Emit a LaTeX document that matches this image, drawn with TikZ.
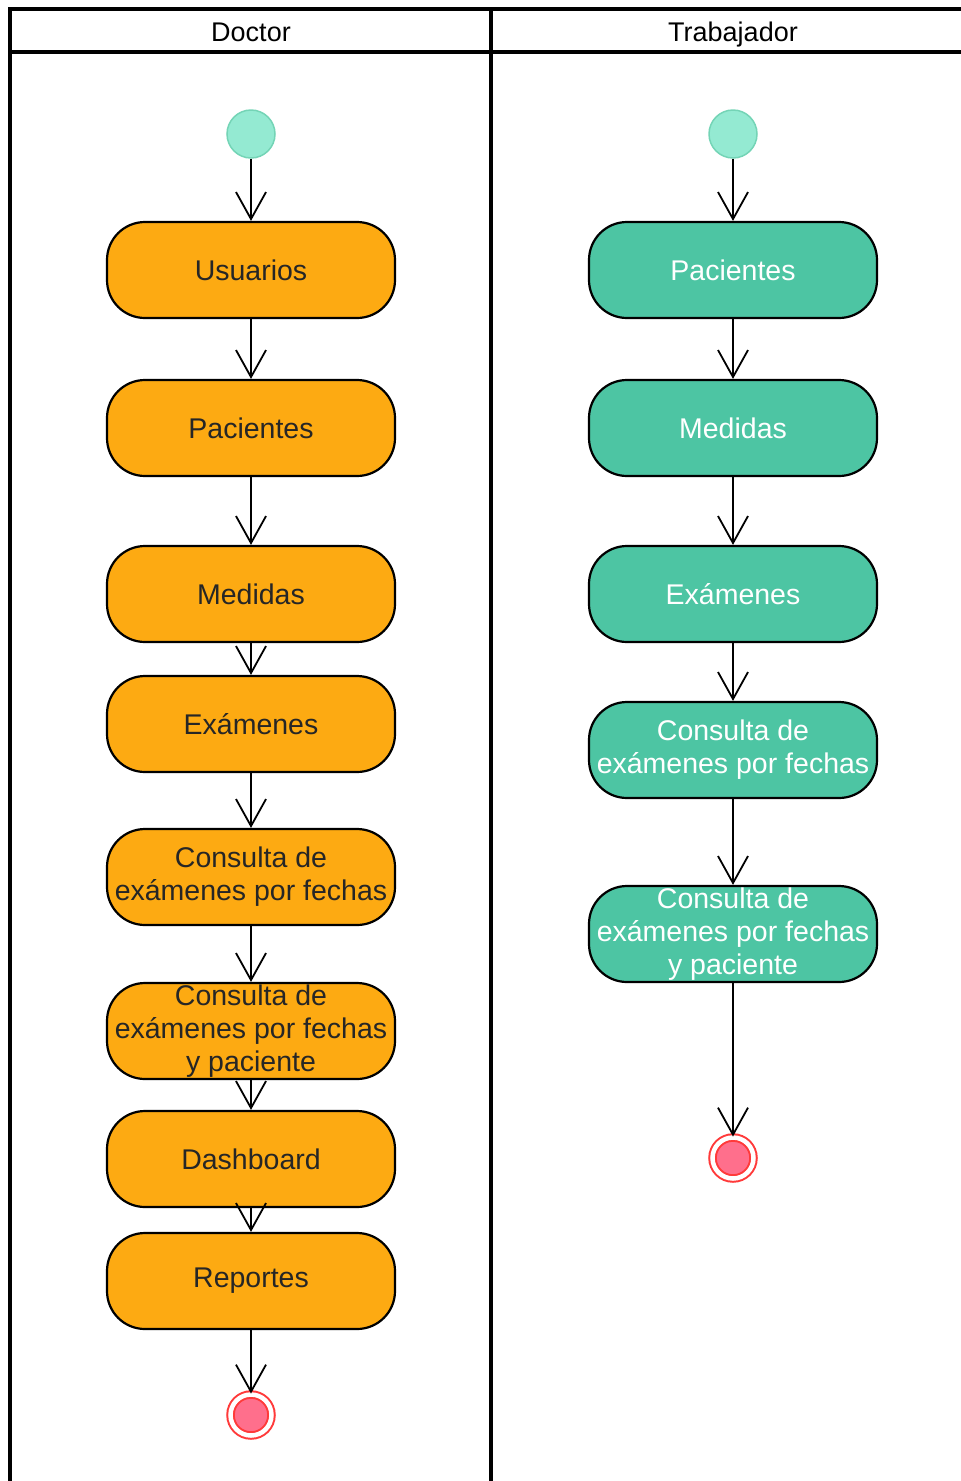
\documentclass[tikz,border=0pt]{standalone}
\usepackage{fontspec}
\setmainfont{Liberation Sans}
\usetikzlibrary{arrows.meta}

\definecolor{docfill}{HTML}{FDAA12}
\definecolor{trabfill}{HTML}{4DC5A3}
\definecolor{startfill}{HTML}{94EAD2}
\definecolor{startline}{HTML}{74D4B6}
\definecolor{endline}{HTML}{FF3A3A}
\definecolor{endfill}{HTML}{FF6F8C}

\tikzset{
  lane/.style={line width=3.5pt},
  lanetitle/.style={font=\fontsize{27}{30}\selectfont, text height=19pt,
    text depth=6pt, inner sep=0pt},
  act/.style={rounded corners=38pt, draw=black, line width=2.2pt,
    minimum width=288pt, minimum height=96pt, inner sep=0pt, align=center,
    font=\fontsize{28.5}{33}\selectfont},
  docact/.style={act, fill=docfill, text=black!85},
  trabact/.style={act, fill=trabfill, text=white},
  initial/.style={circle, fill=startfill, draw=startline, line width=1.5pt,
    minimum size=48pt, inner sep=0pt},
  final/.style={circle, draw=endline, line width=2pt, double=white,
    double distance=4.5pt, fill=endfill, minimum size=41pt, inner sep=0pt},
  flow/.style={->, line width=1.8pt}
}

\begin{document}
\begin{tikzpicture}[x=1pt,y=-1pt,
  >={Straight Barb[length=27pt,width=30pt]}]
  \useasboundingbox (0,0) rectangle (961,1481);

  % Swimlanes
  \draw[lane] (10,1481) -- (10,9) -- (961,9);
  \draw[lane] (10,52) -- (961,52);
  \draw[lane] (491,9) -- (491,1481);
  \node[lanetitle] (hDoctor) at (251,35) {Doctor};
  \node[lanetitle] (hTrabajador) at (733,35) {Trabajador};

  % Doctor
  \node[initial] (dStart) at (251,134) {};
  \node[docact] (dUsuarios) at (251,270) {Usuarios};
  \node[docact] (dPacientes) at (251,428) {Pacientes};
  \node[docact] (dMedidas) at (251,594) {Medidas};
  \node[docact] (dExamenes) at (251,724) {Exámenes};
  \node[docact] (dFechas) at (251,877) {Consulta de\\exámenes por fechas};
  \node[docact] (dPaciente) at (251,1031) {Consulta de\\exámenes por fechas\\y paciente};
  \node[docact] (dDashboard) at (251,1159) {Dashboard};
  \node[docact] (dReportes) at (251,1281) {Reportes};
  \node[final] (dEnd) at (251,1415) {};

  % Trabajador
  \node[initial] (tStart) at (733,134) {};
  \node[trabact] (tPacientes) at (733,270) {Pacientes};
  \node[trabact] (tMedidas) at (733,428) {Medidas};
  \node[trabact] (tExamenes) at (733,594) {Exámenes};
  \node[trabact] (tFechas) at (733,750) {Consulta de\\exámenes por fechas};
  \node[trabact] (tPaciente) at (733,934) {Consulta de\\exámenes por fechas\\y paciente};
  \node[final] (tEnd) at (733,1158) {};

  % Control flow
  \foreach \a/\b in {dStart/dUsuarios, dUsuarios/dPacientes, dPacientes/dMedidas,
      dMedidas/dExamenes, dExamenes/dFechas, dFechas/dPaciente,
      dPaciente/dDashboard, dDashboard/dReportes, dReportes/dEnd,
      tStart/tPacientes, tPacientes/tMedidas, tMedidas/tExamenes,
      tExamenes/tFechas, tFechas/tPaciente, tPaciente/tEnd}
    \draw[flow] (\a) -- (\b);
\end{tikzpicture}
\end{document}
